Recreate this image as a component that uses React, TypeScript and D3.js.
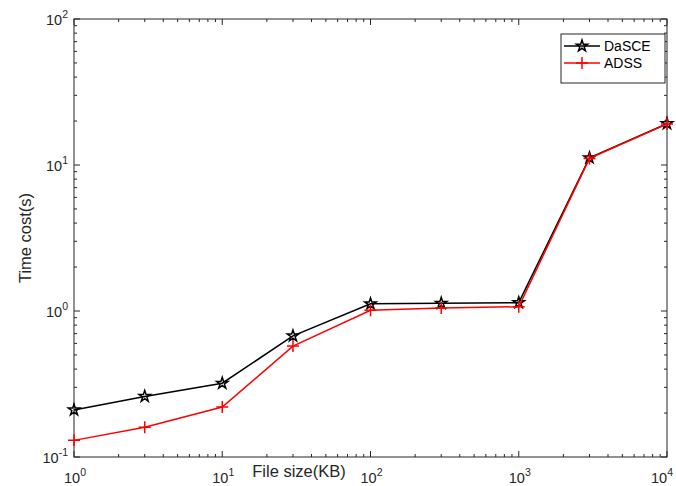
import React, { useEffect, useRef } from 'react';
import * as d3 from 'd3';

// tamanhos de arquivo (KB)
const fileSizes = [1, 3, 10, 30, 100, 300, 1000, 3000, 10000];
// tempos medidos (s)
const dasceTimes = [0.21, 0.26, 0.32, 0.675, 1.12, 1.13, 1.14, 11.2, 19.2];
const adssTimes = [0.13, 0.16, 0.22, 0.575, 1.01, 1.05, 1.07, 11.1, 19.1];

const xTickExps = [0, 1, 2, 3, 4];
const yTickExps = [-1, 0, 1, 2];

const series = [
  { name: 'DaSCE', values: dasceTimes, color: '#000000', marker: 'star' },
  { name: 'ADSS', values: adssTimes, color: '#ff0000', marker: 'plus' },
];

const App = () => {
  const chartRef = useRef<SVGSVGElement>(null);

  useEffect(() => {
    const W = 676, H = 486;
    const margin = { top: 19, right: 9, bottom: 29, left: 74 };
    const width = W - margin.left - margin.right;
    const height = H - margin.top - margin.bottom;
    const axisColor = '#262626';
    const font = '"Liberation Sans", Arial, sans-serif';

    d3.select(chartRef.current).selectAll('*').remove();

    const svg = d3.select(chartRef.current)
      .attr('width', W)
      .attr('height', H)
      .style('position', 'absolute')
      .style('left', '0px')
      .style('top', '0px');

    svg.append('rect').attr('width', W).attr('height', H).attr('fill', '#fff');

    const g = svg.append('g').attr('transform', `translate(${margin.left},${margin.top})`);

    const x = d3.scaleLog().domain([1, 10000]).range([0, width]);
    const y = d3.scaleLog().domain([0.1, 100]).range([height, 0]);

    // ticks menores e maiores (para dentro, nos quatro lados)
    const minorX: number[] = [];
    for (let e = 0; e < 4; e++) for (let k = 2; k <= 9; k++) minorX.push(k * Math.pow(10, e));
    const minorY: number[] = [];
    for (let e = -1; e < 2; e++) for (let k = 2; k <= 9; k++) minorY.push(k * Math.pow(10, e));

    const ticks = g.append('g').attr('stroke', axisColor).attr('stroke-width', 1);
    const majorLen = 6, minorLen = 3;
    xTickExps.forEach(e => {
      const px = x(Math.pow(10, e));
      ticks.append('line').attr('x1', px).attr('x2', px).attr('y1', height).attr('y2', height - majorLen);
      ticks.append('line').attr('x1', px).attr('x2', px).attr('y1', 0).attr('y2', majorLen);
    });
    minorX.forEach(v => {
      const px = x(v);
      ticks.append('line').attr('x1', px).attr('x2', px).attr('y1', height).attr('y2', height - minorLen);
      ticks.append('line').attr('x1', px).attr('x2', px).attr('y1', 0).attr('y2', minorLen);
    });
    yTickExps.forEach(e => {
      const py = y(Math.pow(10, e));
      ticks.append('line').attr('x1', 0).attr('x2', majorLen).attr('y1', py).attr('y2', py);
      ticks.append('line').attr('x1', width).attr('x2', width - majorLen).attr('y1', py).attr('y2', py);
    });
    minorY.forEach(v => {
      const py = y(v);
      ticks.append('line').attr('x1', 0).attr('x2', minorLen).attr('y1', py).attr('y2', py);
      ticks.append('line').attr('x1', width).attr('x2', width - minorLen).attr('y1', py).attr('y2', py);
    });

    // caixa
    g.append('rect')
      .attr('width', width).attr('height', height)
      .attr('fill', 'none').attr('stroke', axisColor).attr('stroke-width', 1);

    // rótulos dos ticks
    xTickExps.forEach(e => {
      const t = g.append('text')
        .attr('x', x(Math.pow(10, e)) + (e === 4 ? -5 : 1))
        .attr('y', height + 26)
        .attr('text-anchor', 'middle')
        .attr('font-family', font).attr('font-size', 14.5).attr('fill', axisColor);
      t.append('tspan').text('10');
      t.append('tspan').attr('dy', -7).attr('font-size', 10.5).text(String(e));
    });
    yTickExps.forEach(e => {
      const t = g.append('text')
        .attr('x', -6)
        .attr('y', y(Math.pow(10, e)) + 5.5)
        .attr('text-anchor', 'end')
        .attr('font-family', font).attr('font-size', 14.5).attr('fill', axisColor);
      t.append('tspan').text('10');
      t.append('tspan').attr('dy', -7).attr('font-size', 10.5).text(String(e));
    });

    // títulos dos eixos
    g.append('text')
      .attr('x', 225).attr('y', height + 20)
      .attr('text-anchor', 'middle')
      .attr('font-family', font).attr('font-size', 16.5).attr('fill', axisColor)
      .text('File size(KB)');
    svg.append('text')
      .attr('transform', `translate(31,${margin.top + height / 2}) rotate(-90)`)
      .attr('text-anchor', 'middle')
      .attr('font-family', font).attr('font-size', 16.5).attr('fill', axisColor)
      .text('Time cost(s)');

    const line = d3.line<number>()
      .x((_, i) => x(fileSizes[i]))
      .y(d => y(d));

    const star = d3.symbol().type(d3.symbolStar).size(40);

    series.forEach(s => {
      g.append('path')
        .datum(s.values)
        .attr('fill', 'none')
        .attr('stroke', s.color)
        .attr('stroke-width', 1.5)
        .attr('d', line);

      const m = g.append('g');
      s.values.forEach((v, i) => {
        const px = x(fileSizes[i]), py = y(v);
        if (s.marker === 'star') {
          m.append('path')
            .attr('d', star()!)
            .attr('transform', `translate(${px},${py})`)
            .attr('fill', 'none').attr('stroke', s.color).attr('stroke-width', 1.5);
        } else {
          m.append('path')
            .attr('d', `M${px - 6},${py}H${px + 6}M${px},${py - 6}V${py + 6}`)
            .attr('stroke', s.color).attr('stroke-width', 1.5);
        }
      });
    });

    // legenda
    const lg = g.append('g').attr('transform', `translate(${width - 106},15)`);
    lg.append('rect')
      .attr('width', 104).attr('height', 49)
      .attr('fill', '#fff').attr('stroke', axisColor).attr('stroke-width', 1);
    series.forEach((s, i) => {
      const ly = 12 + i * 17;
      lg.append('line')
        .attr('x1', 3).attr('x2', 39).attr('y1', ly).attr('y2', ly)
        .attr('stroke', s.color).attr('stroke-width', 1.5);
      if (s.marker === 'star') {
        lg.append('path')
          .attr('d', star()!)
          .attr('transform', `translate(21,${ly})`)
          .attr('fill', 'none').attr('stroke', s.color).attr('stroke-width', 1.5);
      } else {
        lg.append('path')
          .attr('d', `M15,${ly}H27M21,${ly - 6}V${ly + 6}`)
          .attr('stroke', s.color).attr('stroke-width', 1.5);
      }
      lg.append('text')
        .attr('x', 43).attr('y', ly + 5)
        .attr('font-family', font).attr('font-size', 14).attr('fill', '#000')
        .text(s.name);
    });
  }, []);

  return <svg ref={chartRef}></svg>;
};

export default App;
